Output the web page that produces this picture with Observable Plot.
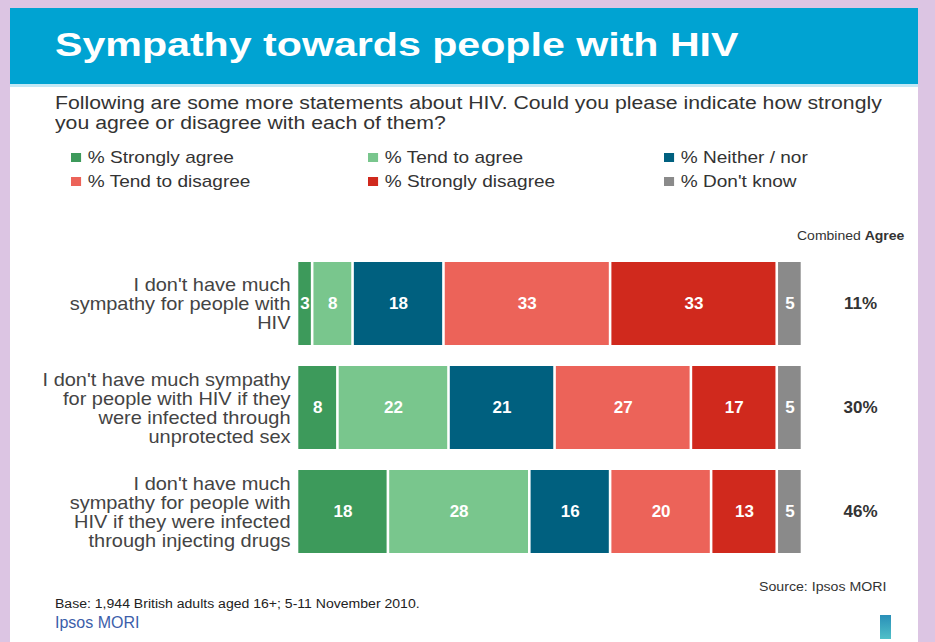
<!DOCTYPE html>
<html>
<head>
<meta charset="utf-8">
<script src="https://cdn.jsdelivr.net/npm/d3@7"></script>
<script src="https://cdn.jsdelivr.net/npm/@observablehq/plot@0.6"></script>
<style>
  html, body { margin: 0; padding: 0; }
  body { width: 935px; height: 642px; background: #dcc5e3; position: relative; overflow: hidden;
         font-family: "Liberation Sans", Arial, sans-serif; color: #333; }
  #card { position: absolute; left: 10px; top: 8px; width: 908px; height: 640px; background: #fff; }
  #titlebar { position: absolute; left: 10px; top: 8px; width: 908px; height: 76px; background: #00a3d2;
              border-bottom: 3px solid #c3e8f5; }
  .sx { transform-origin: 0 50%; white-space: nowrap; }
  #title { position: absolute; left: 55px; top: 27px; font-size: 34px; font-weight: bold; color: #fff;
           line-height: 1; transform: scaleX(1.21); }
  #subtitle { position: absolute; left: 55px; top: 93px; font-size: 18px; line-height: 20px; color: #333;
              transform: scaleX(1.18); }
  .leg { position: absolute; font-size: 17px; color: #333; line-height: 1; transform: scaleX(1.12); }
  .leg i { display: inline-block; width: 9px; height: 9px; margin-right: 6px; vertical-align: 1px; }
  #combined { position: absolute; left: 797px; top: 229px; font-size: 12.5px; color: #333; transform: scaleX(1.12); }
  #plot { position: absolute; left: 10px; top: 220px; }
  #source { position: absolute; left: 759px; top: 580px; font-size: 12px; color: #333; transform: scaleX(1.18); }
  #base { position: absolute; left: 55px; top: 597px; font-size: 12px; color: #222; transform: scaleX(1.17); }
  #brand { position: absolute; left: 55px; top: 614px; font-size: 16px; color: #3c5eaa; }
  #logo { position: absolute; left: 880px; top: 615px; width: 11px; height: 24px;
          background: linear-gradient(#2a8fb8, #4fc0c8); }
</style>
</head>
<body>
<div id="card"></div>
<div id="titlebar"></div>
<div id="title" class="sx">Sympathy towards people with HIV</div>
<div id="subtitle" class="sx">Following are some more statements about HIV. Could you please indicate how strongly<br>you agree or disagree with each of them?</div>
<div id="legend"></div>
<div id="combined" class="sx">Combined <b>Agree</b></div>
<div id="plot"></div>
<div id="source" class="sx">Source: Ipsos MORI</div>
<div id="base" class="sx">Base: 1,944 British adults aged 16+; 5-11 November 2010.</div>
<div id="brand">Ipsos MORI</div>
<div id="logo"></div>
<script>
// ---- Data ----
const statements = [
  "I don't have much\nsympathy for people with\nHIV",
  "I don't have much sympathy\nfor people with HIV if they\nwere infected through\nunprotected sex",
  "I don't have much\nsympathy for people with\nHIV if they were infected\nthrough injecting drugs"
];
const categories = ["% Strongly agree", "% Tend to agree", "% Neither / nor",
                    "% Tend to disagree", "% Strongly disagree", "% Don't know"];
const colors = ["#3d9a5b", "#79c68d", "#00607f", "#ec6359", "#d0291d", "#8a8a8a"];
const strongAgree    = [3, 8, 18];
const tendAgree      = [8, 22, 28];
const neither        = [18, 21, 16];
const tendDisagree   = [33, 27, 20];
const strongDisagree = [33, 17, 13];
const dontKnow       = [5, 5, 5];

const series = [strongAgree, tendAgree, neither, tendDisagree, strongDisagree, dontKnow];
const rows = [];
statements.forEach((s, i) => {
  categories.forEach((c, j) => rows.push({statement: s, category: c, order: j, value: series[j][i]}));
});
const combined = statements.map((s, i) => ({statement: s, label: (strongAgree[i] + tendAgree[i]) + "%"}));

// ---- Legend ----
const legend = document.getElementById("legend");
const legPos = [[71,149],[368,149],[664,149],[71,173],[368,173],[664,173]];
categories.forEach((c, j) => {
  const d = document.createElement("div");
  d.className = "leg sx";
  d.style.left = legPos[j][0] + "px";
  d.style.top = legPos[j][1] + "px";
  d.innerHTML = `<i style="background:${colors[j]}"></i>${c}`;
  legend.appendChild(d);
});

// ---- Chart ----
const chart = Plot.plot({
  width: 908,
  height: 360,
  marginLeft: 287,
  marginRight: 116,
  marginTop: 21,
  marginBottom: 6,
  style: {fontFamily: "Liberation Sans, Arial, sans-serif", background: "transparent"},
  x: {domain: [0, 100], axis: null},
  y: {domain: statements, padding: 0.2, label: null},
  color: {domain: categories, range: colors},
  marks: [
    Plot.barX(rows, Plot.stackX({
      x: "value", y: "statement", fill: "category", order: "order",
      insetLeft: 1.3, insetRight: 1.3
    })),
    Plot.text(rows, Plot.stackX({
      x: "value", y: "statement", z: "category", order: "order", text: "value",
      fill: "white", fontWeight: "bold", fontSize: 17
    })),
    Plot.axisY({tickSize: 0, tickPadding: 7, fontSize: 18, lineHeight: 1.055, fill: "#444", label: null}),
    Plot.text(combined, {
      y: "statement", text: "label", frameAnchor: "right", textAnchor: "middle", dx: 58,
      fontWeight: "bold", fontSize: 17, fill: "#333"
    })
  ]
});
// widen statement labels like the reference's stretched type (anchor at right edge)
chart.querySelectorAll('g[aria-label="y-axis tick label"] text').forEach(t => {
  const tr = t.getAttribute("transform") || "";
  t.setAttribute("transform", tr + " scale(1.11,1)");
});
document.getElementById("plot").appendChild(chart);
</script>
</body>
</html>
